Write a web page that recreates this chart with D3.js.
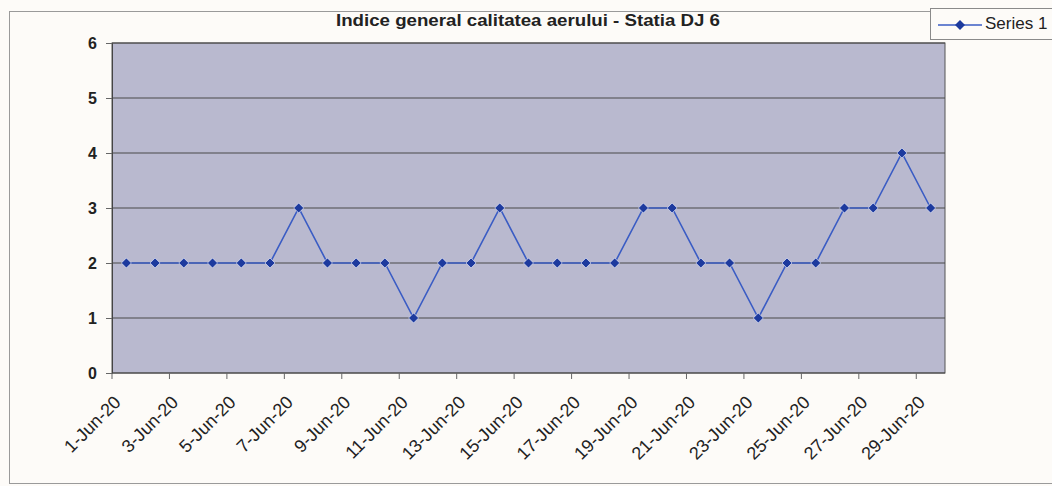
<!DOCTYPE html>
<html>
<head>
<meta charset="utf-8">
<script src="https://cdn.jsdelivr.net/npm/d3@7"></script>
<style>
  body { margin: 0; background: #fdfbf8; }
  text { font-family: "Liberation Sans", Arial, sans-serif; fill: #222; }
</style>
</head>
<body>
<div id="chart"></div>
<script>
// daily values, 1-29 Jun 2020
const days = d3.range(1, 30).map(d => d + "-Jun-20");
const values = [2, 2, 2, 2, 2, 2, 3, 2, 2, 2, 1, 2, 2, 3, 2, 2, 2, 2, 3, 3, 2, 2, 1, 2, 2, 3, 3, 4, 3];
const yTicks = [0, 1, 2, 3, 4, 5, 6];
const title = "Indice general calitatea aerului - Statia DJ 6";
const seriesName = "Series 1";

const width = 1052, height = 486;
const plot = { left: 112, right: 945, top: 43, bottom: 373 };

const svg = d3.select("#chart").append("svg")
    .attr("width", width)
    .attr("height", height);

// chart area border
svg.append("rect")
    .attr("x", 9.5).attr("y", 11.5)
    .attr("width", 1100).attr("height", 472)
    .attr("fill", "none")
    .attr("stroke", "#9a9a9a");

const x = d3.scaleBand().domain(days).range([plot.left, plot.right]);
const y = d3.scaleLinear().domain([0, 6]).range([plot.bottom, plot.top]);
const cx = d => x(d) + x.bandwidth() / 2;

// plot background
svg.append("rect")
    .attr("x", plot.left).attr("y", plot.top)
    .attr("width", plot.right - plot.left)
    .attr("height", plot.bottom - plot.top)
    .attr("fill", "#b9b9cf")
    .attr("stroke", "#555")
    .attr("stroke-width", 1);

// gridlines
svg.append("g").selectAll("line")
    .data(yTicks.slice(1))
    .join("line")
    .attr("x1", plot.left).attr("x2", plot.right)
    .attr("y1", d => y(d)).attr("y2", d => y(d))
    .attr("stroke", "#4a4a4a")
    .attr("stroke-width", 1.1);

// y axis
const yAxis = svg.append("g")
    .attr("transform", "translate(" + plot.left + ",0)")
    .call(d3.axisLeft(y).tickValues(yTicks).tickSize(6).tickPadding(9).tickFormat(d3.format("d")));
yAxis.select(".domain").attr("stroke", "#444");
yAxis.selectAll(".tick line").attr("stroke", "#666");
yAxis.selectAll("text").attr("font-size", 16).attr("font-weight", "bold").attr("fill", "#222");

// x axis: ticks between every second category
const xg = svg.append("g");
xg.append("line")
    .attr("x1", plot.left).attr("x2", plot.right)
    .attr("y1", plot.bottom).attr("y2", plot.bottom)
    .attr("stroke", "#444");
xg.selectAll(".xt")
    .data(days.filter((d, i) => i % 2 === 0))
    .join("line")
    .attr("class", "xt")
    .attr("x1", d => x(d)).attr("x2", d => x(d))
    .attr("y1", plot.bottom).attr("y2", plot.bottom + 6)
    .attr("stroke", "#666");
xg.selectAll(".xl")
    .data(days.filter((d, i) => i % 2 === 0))
    .join("text")
    .attr("class", "xl")
    .attr("transform", d => "translate(" + (cx(d) - 9) + "," + (plot.bottom + 26) + ") rotate(-45)")
    .attr("text-anchor", "end")
    .attr("dy", "0.35em")
    .attr("font-size", 18)
    .text(d => d);

// series line
const line = d3.line()
    .x((d, i) => cx(days[i]))
    .y(d => y(d));

svg.append("path")
    .datum(values)
    .attr("d", line)
    .attr("fill", "none")
    .attr("stroke", "#3a5cc4")
    .attr("stroke-width", 1.6);

const marker = d3.symbol().type(d3.symbolSquare).size(50);
svg.append("g").selectAll("path")
    .data(values)
    .join("path")
    .attr("d", marker)
    .attr("transform", (d, i) => "translate(" + cx(days[i]) + "," + y(d) + ") rotate(45)")
    .attr("fill", "#1d3a9e")
    .attr("stroke", "#eef0ff")
    .attr("stroke-width", 0.6);

// title
svg.append("text")
    .attr("x", 528).attr("y", 26)
    .attr("text-anchor", "middle")
    .attr("font-size", 16)
    .attr("font-weight", "bold")
    .attr("textLength", 384)
    .attr("lengthAdjust", "spacingAndGlyphs")
    .text(title);

// legend
const lg = svg.append("g");
lg.append("rect")
    .attr("x", 930.5).attr("y", 8.5)
    .attr("width", 140).attr("height", 31)
    .attr("fill", "#fdfbf8")
    .attr("stroke", "#8a8a8a");
lg.append("line")
    .attr("x1", 938).attr("x2", 982)
    .attr("y1", 25).attr("y2", 25)
    .attr("stroke", "#3a5cc4").attr("stroke-width", 1.6);
lg.append("path")
    .attr("d", marker)
    .attr("transform", "translate(960,25) rotate(45)")
    .attr("fill", "#1d3a9e");
lg.append("text")
    .attr("x", 985).attr("y", 29)
    .attr("font-size", 17)
    .text(seriesName);
</script>
</body>
</html>
